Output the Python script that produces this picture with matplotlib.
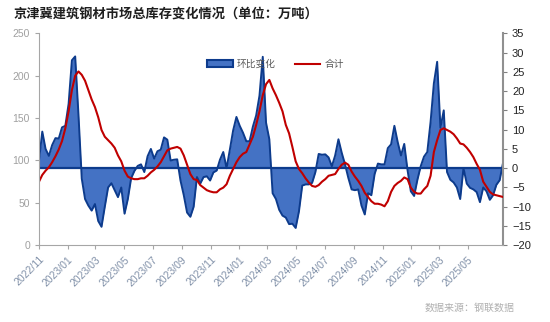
import pandas as pd
import numpy as np
import matplotlib
matplotlib.use("Agg")
import matplotlib.pyplot as plt
import matplotlib.dates as mdates
from matplotlib.patches import Patch
from matplotlib.lines import Line2D

plt.rcParams['font.family'] = ['Liberation Sans', 'Noto Sans CJK SC', 'DejaVu Sans']

# --- Data (weekly) ---
dates = pd.date_range("2022-11-01", periods=142, freq="7D")

# week-on-week change (right axis)
wow_change = [
    2, 9.5, 5, 3.2, 6, 7.8, 7.7, 10.6, 11, 16.7,
    28, 29, 13.8, -2.7, -8, -9.7, -11, -9.3, -13.7, -15.2,
    -10, -5, -3.9, -5.7, -7.5, -5, -11.8, -8, -2.6, -0.7,
    0.6, 1, -1, 3.1, 5, 2.5, 4.4, 4.8, 8, 7.4,
    2, 2.2, 2.3, -3.2, -7, -11.5, -12.6, -10, -2.3, -4,
    -2.3, -2.1, -3.2, -1.1, -0.6, 2.2, 4.2, 0, 4.8, 9.8,
    13.3, 11, 9.2, 7, 7, 10.8, 13.7, 18.8, 28.9, 11.8,
    7.5, -6.5, -8, -10.8, -12.3, -12.8, -14.5, -14.4, -15.5, -11.2,
    -4.5, -4.2, -4.2, -3.8, -1, 3.7, 3.5, 3.6, 2.8, 0.5,
    3.3, 7.5, 4, 1, -2.5, -5.5, -5.7, -5.5, -9.7, -12,
    -6.5, -7, -1.5, 1.2, 1, 1, 5.2, 6.2, 11, 6.8,
    3.3, 6.3, -0.5, -6, -7.2, -3, 0.5, 3, 4.2, 12,
    22, 27.6, 10.5, 15, -1, -3, -3.7, -5, -8, 0,
    -4, -5.1, -5.5, -6.2, -8.8, -5, -6, -8.2, -7, -4.3,
    -3.1, 1.3,
]

# total inventory (left axis)
total = [
    75, 83, 88, 92, 98, 105, 113, 123, 138, 158,
    183, 200, 205, 201, 194, 183, 172, 163, 151, 136,
    128, 124, 120, 115, 106, 99, 88, 81, 79, 78,
    78, 79, 79, 82, 86, 89, 93, 98, 105, 112,
    114, 115, 116, 114, 106, 95, 84, 78, 77, 71,
    68, 65, 63.5, 62.5, 62.5, 66, 68, 72, 82, 90,
    98, 104, 108, 110, 119, 128, 142, 158, 177, 190,
    195, 185, 177, 168, 158, 142, 132, 116, 99, 90,
    85, 79, 74, 70, 69, 71, 75, 78, 82, 83,
    84, 90, 95, 97.5, 95, 87, 81, 76, 70, 62,
    57, 52, 49, 49, 48, 46, 52, 63, 70, 73.5,
    76, 80, 78, 68, 63, 61, 61, 66, 70, 82,
    110, 124, 136, 138, 136, 134, 131, 126, 120, 119,
    115, 110, 104, 96, 89, 75, 69, 63, 60, 59,
    58, 57,
]

tick_dates = pd.date_range("2022-11-01", "2025-05-01", freq="2MS")

blue = "#4472C4"
navy = "#0D3B8C"
red = "#C00000"
grey = "#A6A6A6"

fig = plt.figure(figsize=(5.5, 3.22), dpi=100)
ax = fig.add_axes([0.0709, 0.2382, 0.8436, 0.6584])
ax2 = ax.twinx()

# blue area on right axis
ax2.fill_between(dates, wow_change, 0, color=blue, linewidth=0)
ax2.plot(dates, wow_change, color=navy, linewidth=1.4)
ax2.axhline(0, color=navy, linewidth=1.6)
ax2.set_ylim(-20, 35)
ax2.set_yticks(range(-20, 36, 5))

# red line on left axis, drawn above
ax.plot(dates, total, color=red, linewidth=1.5)
ax.set_ylim(0, 250)
ax.set_yticks(range(0, 251, 50))
ax.set_zorder(ax2.get_zorder() + 1)
ax.patch.set_visible(False)

ax.set_xlim(dates[0], dates[-1])
ax.set_xticks(tick_dates)
ax.xaxis.set_major_formatter(mdates.DateFormatter("%Y/%m"))
for lbl in ax.get_xticklabels():
    lbl.set_rotation(45)
    lbl.set_ha("right")
    lbl.set_rotation_mode("anchor")

ax.tick_params(axis="x", labelsize=7.5, colors="#8090A8", length=3, color=grey)
ax.tick_params(axis="y", labelsize=7.5, labelcolor="#A0A0A0", length=3, color=grey)
ax2.tick_params(axis="y", labelsize=8, labelcolor="#222222", length=3, color="#808080")

for a in (ax, ax2):
    a.spines["top"].set_visible(False)
ax.spines["left"].set_color(grey)
ax.spines["bottom"].set_color(grey)
ax.spines["right"].set_visible(False)
ax2.spines["left"].set_visible(False)
ax2.spines["bottom"].set_visible(False)
ax2.spines["right"].set_color("#909090")
ax2.spines["right"].set_linewidth(1.5)

handles = [
    Patch(facecolor=blue, edgecolor=navy, linewidth=1.5, label="环比变化"),
    Line2D([0], [0], color=red, linewidth=1.5, label="合计"),
]
ax.legend(handles=handles, loc="center", bbox_to_anchor=(0.51, 0.855), ncol=2,
          frameon=False, fontsize=7, labelcolor="#595959", handlelength=2.6,
          columnspacing=2.0, handletextpad=0.4)

fig.text(0.024, 0.955, "京津冀建筑钢材市场总库存变化情况（单位：万吨）",
         fontsize=9.5, fontweight="bold", color="#1F1F1F",
         family=["Noto Sans CJK SC"], va="center", ha="left")
fig.text(0.935, 0.045, "数据来源：钢联数据", fontsize=7.2, color="#B0B0B0",
         family=["Noto Sans CJK SC"], ha="right", va="center")

fig.savefig("out.png", dpi=100)
